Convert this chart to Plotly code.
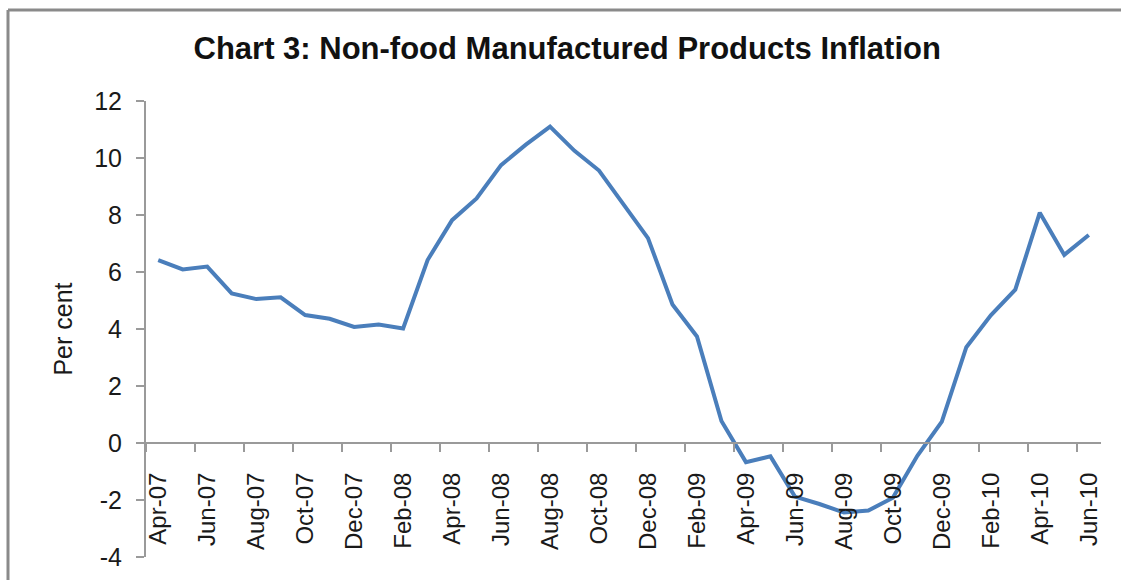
import plotly.graph_objects as go

months = ["Apr-07", "May-07", "Jun-07", "Jul-07", "Aug-07", "Sep-07", "Oct-07", "Nov-07",
          "Dec-07", "Jan-08", "Feb-08", "Mar-08", "Apr-08", "May-08", "Jun-08", "Jul-08",
          "Aug-08", "Sep-08", "Oct-08", "Nov-08", "Dec-08", "Jan-09", "Feb-09", "Mar-09",
          "Apr-09", "May-09", "Jun-09", "Jul-09", "Aug-09", "Sep-09", "Oct-09", "Nov-09",
          "Dec-09", "Jan-10", "Feb-10", "Mar-10", "Apr-10", "May-10", "Jun-10"]
inflation = [6.42, 6.09, 6.19, 5.25, 5.05, 5.11, 4.49, 4.36, 4.07, 4.16, 4.02,
             6.42, 7.82, 8.58, 9.75, 10.46, 11.1, 10.25, 9.56, 8.37, 7.19,
             4.86, 3.74, 0.77, -0.67, -0.47, -1.88, -2.14, -2.44, -2.37, -1.92, -0.45, 0.75,
             3.36, 4.48, 5.38, 8.08, 6.6, 7.3]
y_ticks = [-4, -2, 0, 2, 4, 6, 8, 10, 12]
y_tick_text = ["-4", "-2", "0", "2", "4", "6", "8", "10", "12"]

W, H = 1121, 580
L, R, T, B = 146, 20, 101, 23
pw, ph = W - L - R, H - T - B

def px_x(p):
    return (p - L) / pw

def px_y(p):
    return (H - B - p) / ph

fig = go.Figure()
fig.add_trace(go.Scatter(x=months, y=inflation, mode="lines",
                         line=dict(color="#4a7ebb", width=4), showlegend=False))

axis_col = "#9a9a9a"
fig.update_layout(
    width=W, height=H,
    margin=dict(l=L, r=R, t=T, b=B, autoexpand=False),
    paper_bgcolor="white", plot_bgcolor="white",
    font=dict(family="Liberation Sans, Arial, sans-serif", color="#1a1a1a"),
    title=dict(text="<b>Chart 3: Non-food Manufactured Products Inflation</b>",
               x=0.506, xanchor="center", y=1 - 48 / H, yanchor="middle",
               xref="container", yref="container",
               font=dict(size=31, color="#111111")),
    xaxis=dict(type="category", range=[-0.5, len(months) - 0.5],
               anchor="free", position=(0 - y_ticks[0]) / (y_ticks[-1] - y_ticks[0]),
               showline=True, linecolor=axis_col, linewidth=2,
               ticks="outside", ticklen=8, tickwidth=2, tickcolor=axis_col,
               tickson="boundaries", tickmode="linear", tick0=0, dtick=2,
               tickangle=-90, ticklabelstandoff=19,
               tickfont=dict(size=24), showgrid=False, zeroline=False, automargin=False),
    yaxis=dict(range=[y_ticks[0], y_ticks[-1]], tickvals=y_ticks, ticktext=y_tick_text,
               showline=True, linecolor=axis_col, linewidth=2,
               ticks="outside", ticklen=8, tickwidth=2, tickcolor=axis_col,
               ticklabelstandoff=9, tickfont=dict(size=25),
               showgrid=False, zeroline=False, automargin=False,
               title=dict(text="Per cent", font=dict(size=25), standoff=14)),
    shapes=[
        dict(type="line", xref="paper", yref="paper",
             x0=px_x(8), x1=px_x(W + 5), y0=px_y(10), y1=px_y(10),
             line=dict(color="#8a8a8a", width=3)),
        dict(type="line", xref="paper", yref="paper",
             x0=px_x(8), x1=px_x(8), y0=px_y(10), y1=px_y(H + 5),
             line=dict(color="#8a8a8a", width=3)),
    ],
)

fig.write_html("out.html", config={"displayModeBar": False},
               post_script="document.body.style.margin='0';document.body.style.overflow='hidden';")
